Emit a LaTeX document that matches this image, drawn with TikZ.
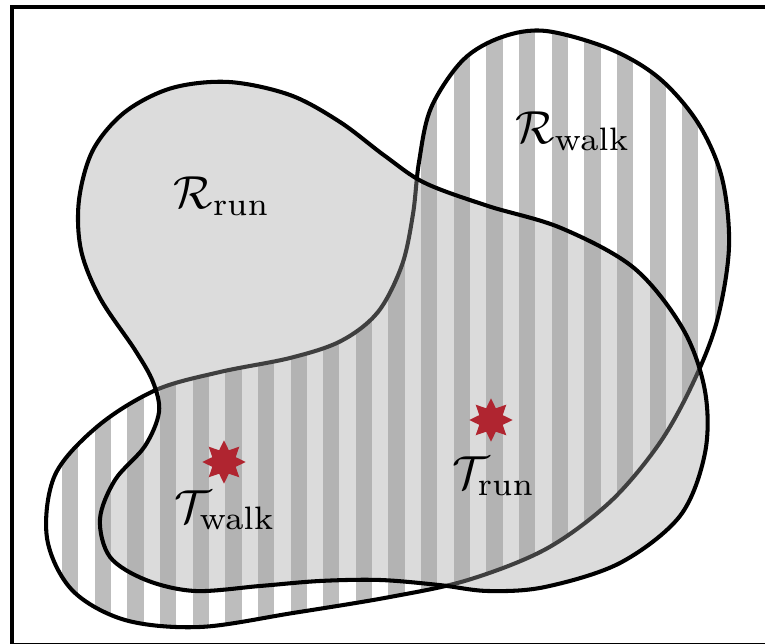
\documentclass[tikz,border=0pt]{standalone}
\usetikzlibrary{shapes.geometric}
\definecolor{runshade}{RGB}{164,164,164}
\definecolor{stripegray}{RGB}{189,189,189}
\definecolor{target}{RGB}{176,37,48}
\tikzset{
  outline/.style={line width=0.9pt, black},
  stripe/.style={fill=stripegray},
  runfill/.style={fill=runshade, fill opacity=0.39},
  goal/.style={star, star points=8, star point ratio=1.7, fill=target,
               inner sep=0pt, minimum size=9.6pt},
  lbl/.style={inner sep=0pt, scale=1.03}
}
\begin{document}
\begin{tikzpicture}[x=0.2222pt, y=-0.2222pt]
\useasboundingbox (0,0) rectangle (765,644);

% outer frame (right and lower edges fall just outside the page)
\draw[line width=0.9pt] (12,7) rectangle (790,645.5);

% region reachable by walking: white with vertical stripes
\def\walkpath{plot[smooth cycle, tension=0.55] coordinates {
  (546,31) (610,49) (659,78) (698,123) (722,178) (729,247) (717,321)
  (693,383) (659,444) (610,502) (546,549) (468,580) (390,597) (293,613)
  (200,627) (125,620) (72,590) (47,538) (55,475) (98,426) (156,390)
  (220,372) (290,358) (341,341) (378,312) (402,265) (413,214) (419,162)
  (431,108) (463,60) (502,37)}}
\fill[white] \walkpath;
\begin{scope}
  \clip \walkpath;
  \foreach \k in {0,...,22}
    \fill[stripe] ({29.4+32.64*\k},0) rectangle ++(16.3,644);
\end{scope}
\draw[outline] \walkpath;

% region reachable by running: translucent grey laid on top
\def\runpath{plot[smooth cycle, tension=0.55] coordinates {
  (229,82) (290,95) (340,122) (385,156) (425,183) (488,206) (561,228)
  (634,268) (683,329) (705,391) (705,453) (680,516) (620,563) (545,587)
  (488,591) (439,585) (380,580) (320,581) (260,586) (195,591) (146,580)
  (110,557) (100,519) (115,480) (145,446) (159,412) (153,382) (135,350)
  (100,298) (81,250) (79,200) (93,150) (125,112) (172,88)}}
\fill[runfill] \runpath;
\draw[outline] \runpath;

% labels
\node[lbl] (rrun)  at (222,196) {$\mathcal{R}_{\mathrm{run}}$};
\node[lbl] (rwalk) at (573,131) {$\mathcal{R}_{\mathrm{walk}}$};
\node[lbl] (trun)  at (494,476) {$\mathcal{T}_{\mathrm{run}}$};
\node[lbl] (twalk) at (225,510) {$\mathcal{T}_{\mathrm{walk}}$};

% targets
\node[goal] (srun)  at (491,420) {};
\node[goal] (swalk) at (224,462) {};
\end{tikzpicture}
\end{document}
